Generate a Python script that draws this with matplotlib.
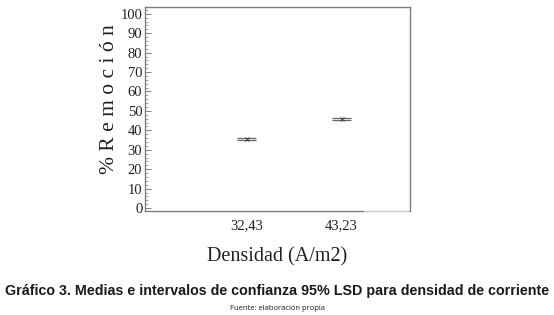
import matplotlib
matplotlib.use("Agg")
import matplotlib.pyplot as plt
from matplotlib.ticker import MultipleLocator

categories = ["32,43", "43,23"]
means = [35.7, 45.9]
lower = [35.2, 45.4]
upper = [36.2, 46.4]
yticks = list(range(0, 101, 10))

fig = plt.figure(figsize=(5.54, 3.15), dpi=100)
ax = fig.add_axes([0.262, 0.330, 0.478, 0.648])
pos = [1, 2]
gray = "#7f7f7f"
for x, m, lo, hi in zip(pos, means, lower, upper):
    ax.hlines([lo, hi], x - 0.1, x + 0.1, color="#666666", lw=0.9)
    ax.vlines(x, lo, hi, color="#666666", lw=0.8)
    ax.plot([x], [m], marker="x", ms=2.5, color="#444444", mew=0.8)

xmin, xmax = -0.07, 2.72
ax.set_xlim(xmin, xmax)
ax.set_ylim(-1.5, 103.5)
ax.set_yticks(yticks)
ax.yaxis.set_minor_locator(MultipleLocator(2))
ax.set_xticks(pos)
ax.set_xticklabels(categories)
serif = "Liberation Serif"
for lab in ax.get_xticklabels() + ax.get_yticklabels():
    lab.set_family(serif)
    lab.set_fontsize(10.5)
    lab.set_color("#222222")
ax.tick_params(axis="y", which="major", direction="in", length=4, width=0.7, color=gray, pad=2)
ax.tick_params(axis="y", which="minor", direction="in", length=2, width=0.5, color=gray)
ax.tick_params(axis="x", length=0, pad=6)
for s in ax.spines.values():
    s.set_color(gray)
    s.set_linewidth(1.0)
ax.spines["bottom"].set_bounds(xmin, 2.22)
ax.plot([2.22, xmax], [-1.5, -1.5], color="#c8c8c8", lw=1.0, clip_on=False)
ax.set_ylabel("% R e m o c i ó n", family=serif, fontsize=15.5, color="#222222")
ax.yaxis.set_label_coords(-0.10, 0.55)
ax.set_xlabel("Densidad (A/m2)", family=serif, fontsize=14.5, color="#222222", labelpad=11)

fig.text(0.5, 0.076, "Gráfico 3. Medias e intervalos de confianza 95% LSD para densidad de corriente",
         ha="center", va="center", family="Liberation Sans", fontweight="bold", fontsize=10.3, color="#1a1a1a")
fig.text(0.5, 0.022, "Fuente: elaboración propia", ha="center", va="center",
         family="Open Sans", fontsize=5.5, color="#1a1a1a")
fig.savefig("out.png", dpi=100)
